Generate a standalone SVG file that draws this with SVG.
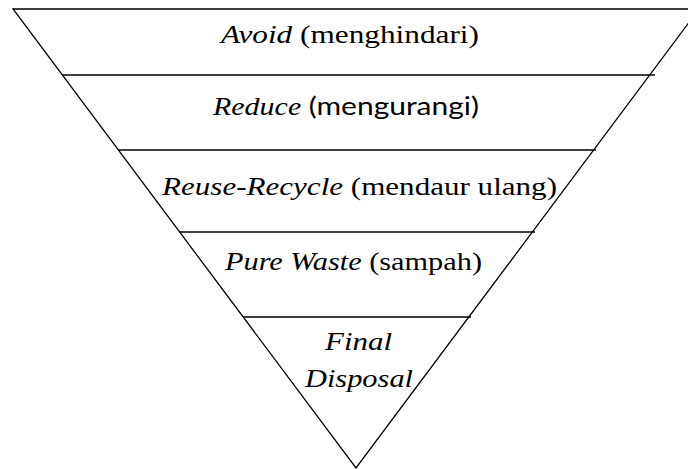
<svg xmlns="http://www.w3.org/2000/svg" width="688" height="469" viewBox="0 0 688 469">
  <style>
    .edge { fill: none; stroke: #000; stroke-width: 1.3; }
  </style>
  <rect width="688" height="469" fill="#fff"/>
  <g id="pyramid">
    <polygon class="edge" points="13,9 699,9 356,468"/>
  </g>
  <g id="connectors">
    <line class="edge" x1="62" y1="75" x2="655" y2="75"/>
    <line class="edge" x1="118" y1="150" x2="596" y2="150"/>
    <line class="edge" x1="180" y1="232" x2="535" y2="232"/>
    <line class="edge" x1="243" y1="317" x2="471" y2="317"/>
  </g>
  <g font-family="Liberation Serif, Times New Roman, Times, serif" font-size="25" fill="#000">
    <g id="avoid">
      <text x="221" y="43" textLength="258" lengthAdjust="spacingAndGlyphs"><tspan font-style="italic">Avoid</tspan> (menghindari)</text>
    </g>
    <g id="reduce">
      <text x="213" y="115" textLength="266" lengthAdjust="spacingAndGlyphs"><tspan font-style="italic">Reduce</tspan> <tspan font-family="Lato, Liberation Sans, sans-serif">(mengurangi)</tspan></text>
    </g>
    <g id="reuse-recycle">
      <text x="162" y="195" textLength="395" lengthAdjust="spacingAndGlyphs"><tspan font-style="italic">Reuse-Recycle</tspan> (mendaur ulang)</text>
    </g>
    <g id="pure-waste">
      <text x="225" y="270" textLength="257" lengthAdjust="spacingAndGlyphs"><tspan font-style="italic">Pure Waste</tspan> (sampah)</text>
    </g>
    <g id="final-disposal" font-style="italic">
      <text x="325" y="350" textLength="67" lengthAdjust="spacingAndGlyphs">Final</text>
      <text x="305" y="387" textLength="108" lengthAdjust="spacingAndGlyphs">Disposal</text>
    </g>
  </g>
</svg>
